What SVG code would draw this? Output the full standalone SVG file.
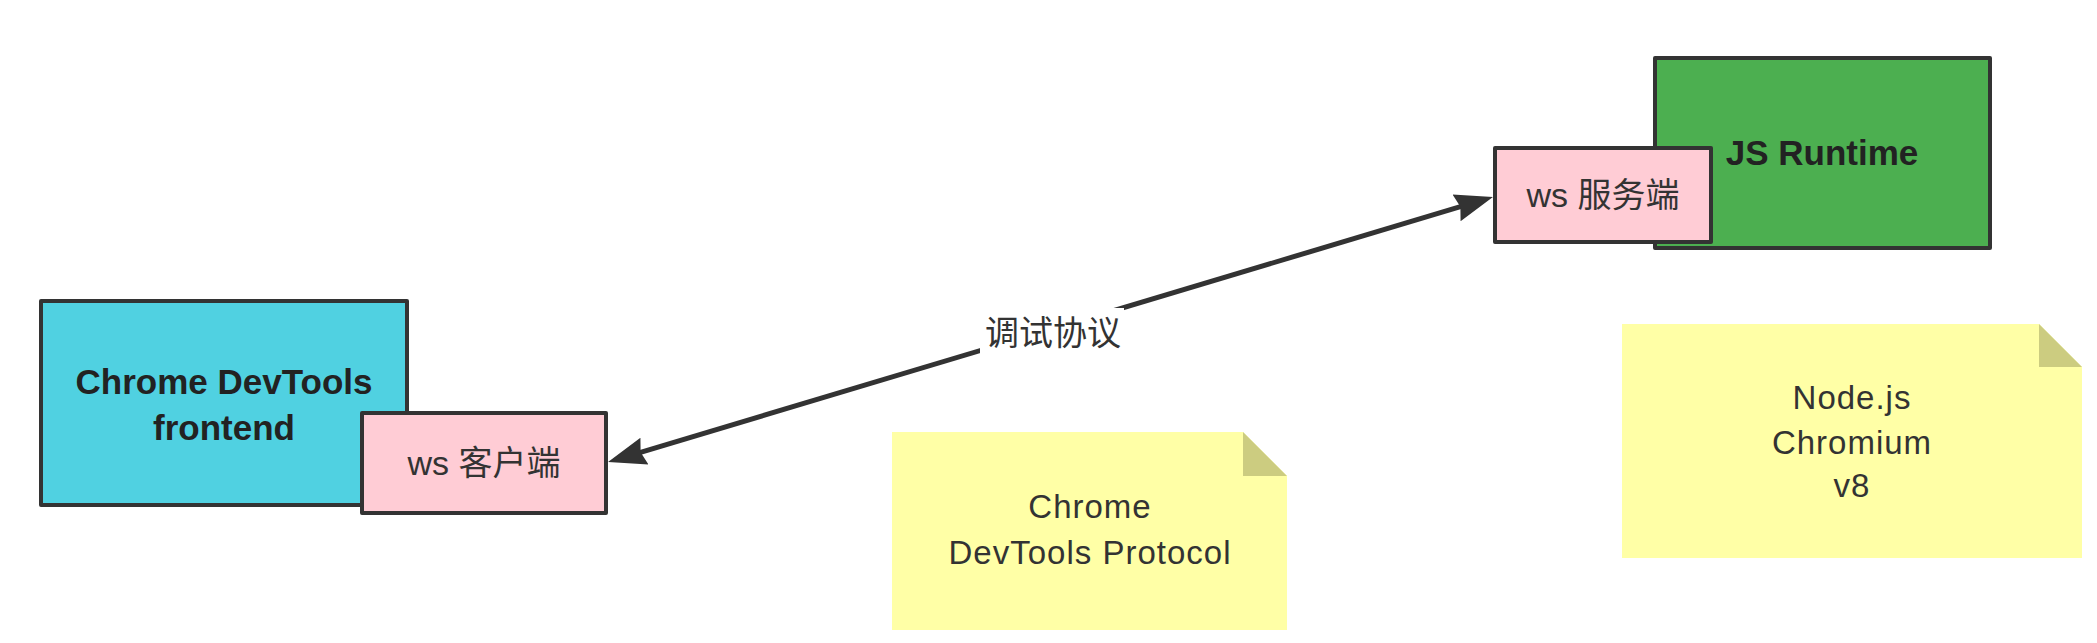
<svg xmlns="http://www.w3.org/2000/svg" width="2097" height="643" viewBox="0 0 2097 643">
  <style>
    .box { stroke: #333333; stroke-width: 4; stroke-linejoin: round; }
    .cyan { fill: #50D1E1; }
    .green { fill: #4CAF50; }
    .pink { fill: #FFCCD5; }
    .note { fill: #FFFFA6; }
    .fold { fill: #CCCC80; }
    .bold { font-family: "Liberation Sans", Arial, sans-serif; font-weight: bold; font-size: 35px; fill: #222222; text-anchor: middle; }
    .cjk { font-family: "Liberation Sans", "Noto Sans CJK SC", sans-serif; font-size: 34px; fill: #333333; text-anchor: middle; }
    .ntext { font-family: "Liberation Sans", Arial, sans-serif; font-size: 33px; letter-spacing: 1px; fill: #333333; text-anchor: middle; }
    .conn { stroke: #333333; stroke-width: 5; fill: none; }
  </style>
  <defs>
    <marker id="arrow" markerUnits="userSpaceOnUse" viewBox="0 0 38 30" refX="18" refY="15" markerWidth="38" markerHeight="30" orient="auto-start-reverse">
      <path d="M0,1 L38,15 L0,29 L4,15 Z" fill="#333333"/>
    </marker>
  </defs>
  <rect width="2097" height="643" fill="#FFFFFF"/>

  <g id="node-frontend">
    <rect class="box cyan" x="41" y="301" width="366" height="204"/>
    <text class="bold" x="224" y="394">Chrome DevTools</text>
    <text class="bold" x="224" y="440">frontend</text>
  </g>

  <g id="node-ws-client">
    <rect class="box pink" x="362" y="413" width="244" height="100"/>
    <text class="cjk" x="484" y="475">ws 客户端</text>
  </g>

  <g id="node-js-runtime">
    <rect class="box green" x="1655" y="58" width="335" height="190"/>
    <text class="bold" x="1822" y="165">JS Runtime</text>
  </g>

  <g id="node-ws-server">
    <rect class="box pink" x="1495" y="148" width="216" height="94"/>
    <text class="cjk" x="1603" y="207">ws 服务端</text>
  </g>

  <g id="connectors">
    <line class="conn" x1="627.2" y1="456.3" x2="1473.8" y2="202.7" marker-start="url(#arrow)" marker-end="url(#arrow)"/>
    <rect x="980" y="308" width="144" height="46" fill="#FFFFFF"/>
    <text class="cjk" x="1053" y="345">调试协议</text>
  </g>

  <g id="note-protocol">
    <path class="note" d="M892,432 H1243 L1287,476 V630 H892 Z"/>
    <path class="fold" d="M1243,432 V476 H1287 Z"/>
    <text class="ntext" x="1090" y="518">Chrome</text>
    <text class="ntext" x="1090" y="564">DevTools Protocol</text>
  </g>

  <g id="note-runtimes">
    <path class="note" d="M1622,324 H2039 L2082,367 V558 H1622 Z"/>
    <path class="fold" d="M2039,324 V367 H2082 Z"/>
    <text class="ntext" x="1852" y="409">Node.js</text>
    <text class="ntext" x="1852" y="454">Chromium</text>
    <text class="ntext" x="1852" y="497">v8</text>
  </g>
</svg>
